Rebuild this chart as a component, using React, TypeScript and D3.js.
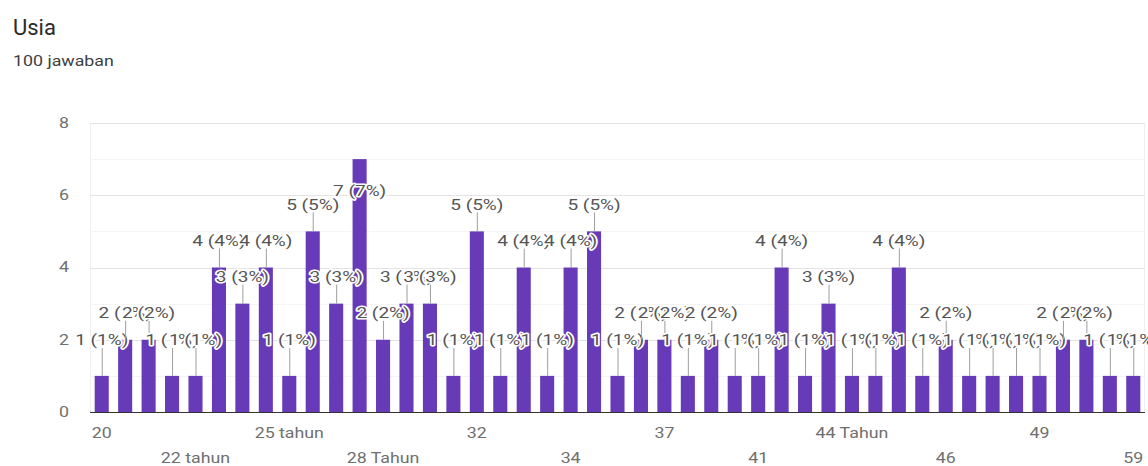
import React from 'react';
import * as d3 from 'd3';

// Answers per age option, in the order the form lists them
const categories = [
  '20', '21', '21 tahun', '22', '22 tahun', '23', '24', '25', '25 tahun', '26',
  '26 tahun', '27', '28 Tahun', '29', '30', '31', '32', '32 tahun', '33', '33 tahun',
  '34', '35', '35 tahun', '36', '37', '38', '39', '40', '41', '42',
  '43', '44', '44 Tahun', '45', '45 tahun', '45 Tahun', '46', '47', '48', '48 tahun',
  '49', '50', '51', '55', '59',
];
const counts = [
  1, 2, 2, 1, 1, 4, 3, 4, 1, 5,
  3, 7, 2, 3, 3, 1, 5, 1, 4, 1,
  4, 5, 1, 2, 2, 1, 2, 1, 1, 4,
  1, 3, 1, 1, 4, 1, 2, 1, 1, 1,
  1, 2, 2, 1, 1,
];
const yTicks = [0, 2, 4, 6, 8];
const yMinorTicks = [1, 3, 5, 7];

const title = 'Usia';
const subtitle = '100 jawaban';

const FONT = 'Roboto, Arial, sans-serif';
const BAR = '#673ab7';
// the chart text is set in a widened face
const SX = 1.27;

type TProps = {
  x: number;
  y: number;
  anchor?: 'start' | 'middle' | 'end';
  size: number;
  fill: string;
  halo?: boolean;
  dy?: string;
  children: React.ReactNode;
};

function WideText({ x, y, anchor = 'start', size, fill, halo, dy, children }: TProps) {
  return (
    <text
      transform={`translate(${x},${y}) scale(${SX},1)`}
      dy={dy}
      textAnchor={anchor}
      fontFamily={FONT}
      fontSize={size}
      fill={fill}
      stroke={halo ? '#fff' : undefined}
      strokeWidth={halo ? 3 : undefined}
      strokeLinejoin={halo ? 'round' : undefined}
      paintOrder={halo ? 'stroke' : undefined}
    >
      {children}
    </text>
  );
}

export default function App() {
  const W = 1148;
  const H = 466;
  const total = d3.sum(counts);

  const x = d3
    .scaleBand<string>()
    .domain(categories)
    .range([90, 1145])
    .paddingInner(0.4)
    .paddingOuter(0.2);
  const y = d3.scaleLinear().domain([0, 8]).range([412, 123]);

  const plotTop = y(8);
  const STEM = 27;
  const LABEL_HALF = 8;

  // Annotation placement: above the bar on a stem, kept clear of the axis,
  // and tucked inside the bar when it would run past the top of the plot.
  const placeLabel = (v: number) => {
    const above = Math.min(y(v) - STEM, y(0) - 72);
    if (above - LABEL_HALF < plotTop + 12) {
      return { cy: y(v) + 31, inside: true };
    }
    return { cy: above, inside: false };
  };

  return (
    <div style={{ position: 'absolute', left: 0, top: 0 }}>
      <svg width={W} height={H} style={{ display: 'block', background: '#fff' }}>
        <text x={13} y={35} fontFamily={FONT} fontSize={22} fill="#2b2b2b">
          {title}
        </text>
        <WideText x={13} y={66} size={14} fill="#3c4043">
          {subtitle}
        </WideText>

        {/* chart area frame */}
        <line x1={90.5} x2={90.5} y1={plotTop} y2={y(0)} stroke="#f0f0f0" />
        <line x1={1144.5} x2={1144.5} y1={plotTop} y2={y(0)} stroke="#f0f0f0" />

        {yMinorTicks.map((t) => (
          <line key={'m' + t} x1={90} x2={1145} y1={Math.round(y(t)) + 0.5} y2={Math.round(y(t)) + 0.5} stroke="#f4f4f4" />
        ))}
        {yTicks.map((t) => (
          <g key={t}>
            {t > 0 && (
              <line x1={90} x2={1145} y1={Math.round(y(t)) + 0.5} y2={Math.round(y(t)) + 0.5} stroke="#e3e3e3" />
            )}
            <WideText x={69} y={y(t)} dy="0.35em" anchor="end" size={14} fill="#6f6f6f">
              {t}
            </WideText>
          </g>
        ))}

        {categories.map((c, i) => (
          <rect
            key={c}
            x={x(c)}
            y={y(counts[i])}
            width={x.bandwidth()}
            height={y(0) - y(counts[i])}
            fill={BAR}
          />
        ))}

        <line x1={90} x2={1145} y1={412.5} y2={412.5} stroke="#333" />

        {categories.map((c, i) => {
          if (i % 4 !== 0) return null;
          const row = (i / 4) % 2;
          return (
            <WideText
              key={'t' + c}
              x={(x(c) as number) + x.bandwidth() / 2}
              y={row === 0 ? 438 : 463}
              anchor="middle"
              size={14}
              fill="#6f6f6f"
            >
              {c}
            </WideText>
          );
        })}

        {categories.map((c, i) => {
          const v = counts[i];
          const cx = (x(c) as number) + x.bandwidth() / 2;
          const { cy, inside } = placeLabel(v);
          const label = `${v} (${Math.round((v / total) * 100)}%)`;
          return (
            <g key={'a' + c}>
              {!inside && (
                <line x1={cx + 0.5} x2={cx + 0.5} y1={y(v)} y2={cy + LABEL_HALF} stroke="#9e9e9e" />
              )}
              <WideText x={cx} y={cy} dy="0.36em" anchor="middle" size={15} fill="#555" halo>
                {label}
              </WideText>
            </g>
          );
        })}
      </svg>
    </div>
  );
}
